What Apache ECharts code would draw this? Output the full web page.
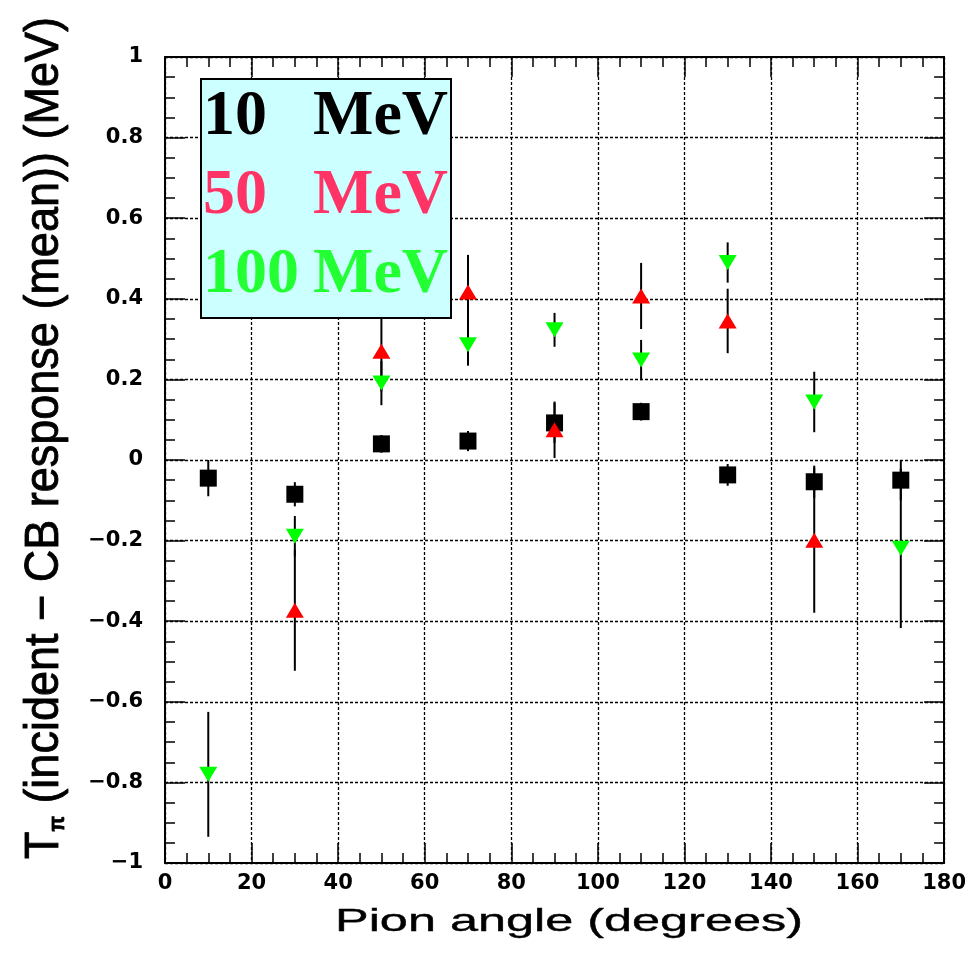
<!DOCTYPE html>
<html>
<head>
<meta charset="utf-8">
<script src="https://cdn.jsdelivr.net/npm/echarts@6/dist/echarts.min.js"></script>
<style>
html,body{margin:0;padding:0;background:#fff;}
#chart{width:969px;height:956px;}
</style>
</head>
<body>
<div id="chart"></div>
<script>
// ---- data ----
const angles   = [10, 30, 50, 70, 90, 110, 130, 150, 170];
const mean10   = [-0.045, -0.085, 0.040, 0.047, 0.092, 0.120, -0.037, -0.054, -0.050];
const err10    = [0.045, 0.030, 0.022, 0.025, 0.050, 0.022, 0.027, 0.040, 0.050];
const mean50   = [null, -0.373, 0.270, 0.417, 0.075, 0.407, 0.345, -0.199, null];
const err50    = [null, 0.150, 0.100, 0.092, 0.070, 0.082, 0.080, 0.180, null];
const mean100  = [-0.780, -0.189, 0.191, 0.286, 0.323, 0.248, 0.490, 0.144, -0.219];
const err100   = [0.155, 0.050, 0.055, 0.052, 0.042, 0.050, 0.050, 0.075, 0.198];
const legendLabels = ['10', '50', '100'];
const legendUnit = 'MeV';
const xTitle = 'Pion angle (degrees)';
const yTitleRest = ' (incident \u2212 CB response (mean)) (MeV)';

function pts(means) {
  const out = [];
  angles.forEach((a, i) => { if (means[i] !== null) out.push([a, means[i]]); });
  return out;
}
function errs(means, es) {
  const out = [];
  angles.forEach((a, i) => { if (means[i] !== null) out.push([a, means[i], es[i]]); });
  return out;
}
function errSeries(means, es) {
  return {
    type: 'custom',
    coordinateSystem: 'cartesian2d',
    xAxisIndex: 0, yAxisIndex: 0,
    z: 3,
    silent: true,
    data: errs(means, es),
    encode: { x: 0, y: 1 },
    renderItem: function (params, api) {
      const x = api.value(0), v = api.value(1), e = api.value(2);
      const p1 = api.coord([x, v - e]);
      const p2 = api.coord([x, v + e]);
      return {
        type: 'line',
        shape: { x1: p1[0], y1: p1[1], x2: p2[0], y2: p2[1] },
        style: { stroke: '#000', lineWidth: 2 }
      };
    }
  };
}

const chart = echarts.init(document.getElementById('chart'), null, { renderer: 'canvas' });

const tickFont = { fontFamily: 'DejaVu Sans', fontWeight: 'bold', fontSize: 21, color: '#000' };
const frameLine = { show: true, onZero: false, lineStyle: { color: '#000', width: 2 } };
const gridDash = { show: true, lineStyle: { color: '#000', width: 1.3, type: [3, 2] } };

function xAx(pos, labels) {
  return {
    type: 'value', position: pos, min: 0, max: 180, interval: 20,
    axisLine: frameLine,
    axisTick: { show: true, inside: true, length: 20, lineStyle: { color: '#000', width: 1.5 } },
    minorTick: { show: true, splitNumber: 4, length: 10, lineStyle: { color: '#000', width: 1.5 } },
    splitLine: labels ? gridDash : { show: false },
    axisLabel: labels ? Object.assign({ show: true, margin: 10 }, tickFont) : { show: false }
  };
}
function yAx(pos, labels) {
  return {
    type: 'value', position: pos, min: -1, max: 1, interval: 0.2,
    axisLine: frameLine,
    axisTick: { show: true, inside: true, length: 20, lineStyle: { color: '#000', width: 1.5 } },
    minorTick: { show: true, splitNumber: 4, length: 10, lineStyle: { color: '#000', width: 1.5 } },
    splitLine: labels ? gridDash : { show: false },
    axisLabel: labels ? Object.assign({
      show: true, margin: 22,
      formatter: function (v) {
        const r = Math.round(v * 10) / 10;
        return String(r).replace('-', '\u2212');
      }
    }, tickFont) : { show: false }
  };
}

const legendColors = ['#000000', '#ff3366', '#22ff33'];
const legendBaselines = [139, 218, 297];
const serifMid = 0.3375 * 64;
const legendTexts = [];
legendLabels.forEach((lab, i) => {
  legendTexts.push({
    type: 'text', z: 101, x: 203, y: legendBaselines[i] - serifMid,
    style: { text: lab, fill: legendColors[i], font: 'bold 64px "Liberation Serif"', textAlign: 'left', textVerticalAlign: 'middle' }
  });
  legendTexts.push({
    type: 'text', z: 101, x: 313, y: legendBaselines[i] - serifMid,
    style: { text: legendUnit, fill: legendColors[i], font: 'bold 64px "Liberation Serif"', textAlign: 'left', textVerticalAlign: 'middle' }
  });
});

const option = {
  backgroundColor: '#ffffff',
  animation: false,
  grid: { left: 165, right: 24, top: 57, bottom: 93, containLabel: false },
  xAxis: [xAx('bottom', true), xAx('top', false)],
  yAxis: [yAx('left', true), yAx('right', false)],
  series: [
    errSeries(mean10, err10),
    errSeries(mean50, err50),
    errSeries(mean100, err100),
    { type: 'scatter', name: '10 MeV', z: 4, data: pts(mean10), symbol: 'rect', symbolSize: 17,
      itemStyle: { color: '#000000', opacity: 1 } },
    { type: 'scatter', name: '50 MeV', z: 5, data: pts(mean50), symbol: 'triangle', symbolSize: [18, 15],
      itemStyle: { color: '#ff0000', opacity: 1 } },
    { type: 'scatter', name: '100 MeV', z: 6, data: pts(mean100), symbol: 'triangle', symbolRotate: 180, symbolSize: [18, 15],
      itemStyle: { color: '#00ff00', opacity: 1 } }
  ],
  graphic: [
    {
      type: 'rect', z: 100,
      shape: { x: 201, y: 79, width: 250, height: 239 },
      style: { fill: '#ccffff', stroke: '#000', lineWidth: 2 }
    }
  ].concat(legendTexts).concat([
    {
      type: 'text', z: 50, x: 569, y: 933 - 0.3465 * 32, scaleX: 1.575,
      style: { text: xTitle, fill: '#000', font: 'normal 32px "Liberation Sans"', textAlign: 'center', textVerticalAlign: 'middle', stroke: '#000', lineWidth: 0.4 }
    },
    {
      type: 'text', z: 50, x: 45, y: 438, rotation: Math.PI / 2, scaleY: 1.08,
      style: {
        text: '{t|T}{s|\u03c0}{n|' + yTitleRest + '}',
        fill: '#000', textAlign: 'center', textVerticalAlign: 'middle', stroke: '#000', lineWidth: 0.8,
        rich: {
          t: { fontFamily: 'Liberation Sans', fontSize: 45, fill: '#000', verticalAlign: 'bottom' },
          s: { fontFamily: 'Liberation Sans', fontSize: 20, fontWeight: 'bold', fill: '#000', verticalAlign: 'bottom' },
          n: { fontFamily: 'Liberation Sans', fontSize: 45, fill: '#000', verticalAlign: 'bottom' }
        }
      }
    }
  ])
};
chart.setOption(option);
</script>
</body>
</html>
